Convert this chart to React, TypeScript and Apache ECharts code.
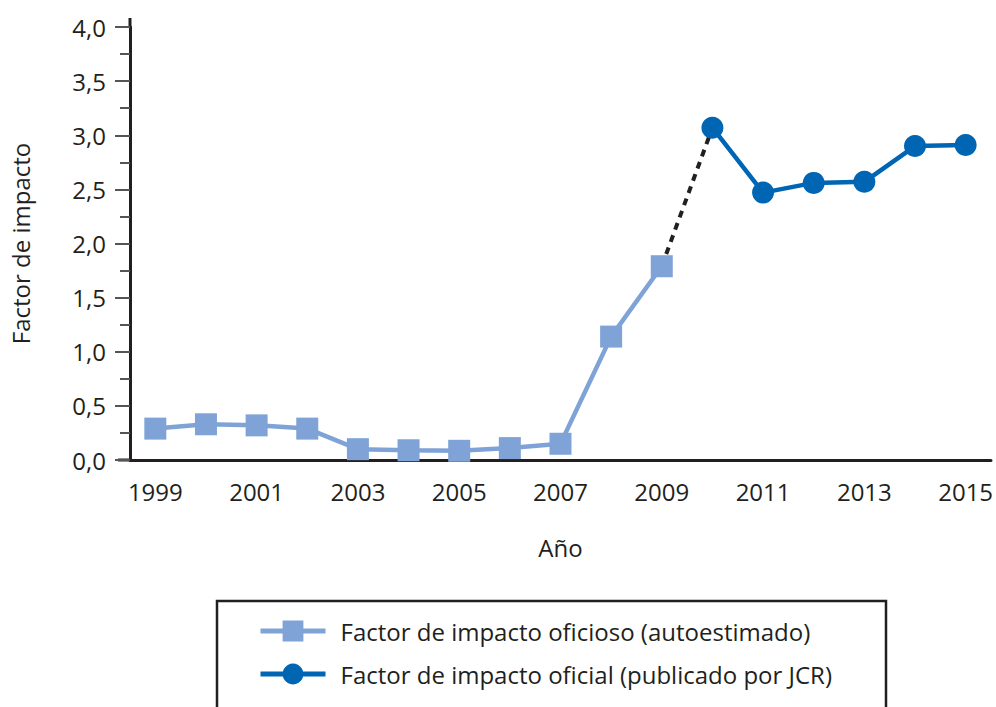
import React, { useEffect, useRef } from "react";
import * as echarts from "echarts";

const years = ["1999","2000","2001","2002","2003","2004","2005","2006","2007","2008","2009","2010","2011","2012","2013","2014","2015"];
const oficioso = [0.29, 0.33, 0.32, 0.29, 0.1, 0.09, 0.085, 0.11, 0.15, 1.14, 1.79, null, null, null, null, null, null];
const oficial = [null, null, null, null, null, null, null, null, null, null, null, 3.07, 2.47, 2.56, 2.57, 2.9, 2.91];
const puente = [null, null, null, null, null, null, null, null, null, null, 1.79, 3.07, null, null, null, null, null];
const seriesNames = ["Factor de impacto oficioso (autoestimado)", "Factor de impacto oficial (publicado por JCR)"];

const FONT = "Open Sans";
const TXT = "#231f20";
const LIGHT = "#7fa3d6";
const DARK = "#0066b3";
const FS = 24;

export default function App() {
  const ref = useRef<HTMLDivElement>(null);
  useEffect(() => {
    const chart = echarts.init(ref.current!, undefined, { renderer: "svg" });
    chart.setOption({
      animation: false,
      textStyle: { fontFamily: FONT, color: TXT },
      grid: { left: 130, right: 2, top: 27, bottom: 247 },
      xAxis: [
        {
          type: "category",
          data: years,
          boundaryGap: true,
          name: "Año",
          nameLocation: "middle",
          nameGap: 75,
          nameTextStyle: { fontSize: FS, color: TXT, fontFamily: FONT },
          axisLine: { lineStyle: { color: TXT, width: 3 } },
          axisTick: { alignWithLabel: true, interval: 1, length: 15, lineStyle: { color: "#555", width: 2 } },
          axisLabel: { interval: 1, fontSize: FS, color: TXT, margin: 19, fontFamily: FONT },
        },
        {
          type: "category",
          data: years,
          boundaryGap: true,
          position: "bottom",
          axisLine: { show: false },
          axisTick: { alignWithLabel: true, interval: 0, length: 10, lineStyle: { color: "#555", width: 2 } },
          axisLabel: { show: false },
        },
      ],
      yAxis: {
        type: "value",
        min: 0,
        max: 4,
        interval: 0.5,
        name: "Factor de impacto",
        nameLocation: "middle",
        nameGap: 98,
        nameTextStyle: { fontSize: FS, color: TXT, fontFamily: FONT },
        axisLine: { show: true, lineStyle: { color: TXT, width: 3 } },
        axisTick: { show: true, length: 15, lineStyle: { color: "#555", width: 2 } },
        minorTick: { show: true, splitNumber: 2, length: 10, lineStyle: { color: "#555", width: 2 } },
        splitLine: { show: false },
        axisLabel: {
          fontSize: FS,
          color: TXT,
          margin: 24,
          fontFamily: FONT,
          formatter: (v: number) => v.toFixed(1).replace(".", ","),
        },
      },
      legend: {
        data: seriesNames,
        orient: "vertical",
        left: 258,
        top: 619,
        padding: 0,
        itemWidth: 65,
        itemHeight: 26,
        itemGap: 19,
        lineStyle: { width: 5 },
        textStyle: { fontSize: FS, color: TXT, fontFamily: FONT, padding: [0, 0, 0, 10] },
      },
      graphic: [
        {
          type: "rect",
          shape: { x: 217, y: 601, width: 669, height: 130 },
          style: { fill: "none", stroke: TXT, lineWidth: 2.5 },
          silent: true,
        },
        {
          type: "line",
          shape: { x1: 118, y1: 460, x2: 130, y2: 460 },
          style: { stroke: TXT, lineWidth: 3 },
          silent: true,
        },
        {
          type: "line",
          shape: { x1: 130, y1: 18, x2: 130, y2: 28 },
          style: { stroke: TXT, lineWidth: 3 },
          silent: true,
        },
      ],
      series: [
        {
          name: "puente",
          type: "line",
          data: puente,
          symbol: "none",
          z: 1,
          lineStyle: { color: TXT, width: 4, type: [7, 6] },
        },
        {
          name: seriesNames[0],
          type: "line",
          data: oficioso,
          symbol: "rect",
          symbolSize: 22,
          z: 3,
          itemStyle: { color: LIGHT },
          lineStyle: { color: LIGHT, width: 4.5 },
        },
        {
          name: seriesNames[1],
          type: "line",
          data: oficial,
          symbol: "circle",
          symbolSize: 22,
          z: 3,
          itemStyle: { color: DARK },
          lineStyle: { color: DARK, width: 4.5 },
        },
      ],
    });
    return () => chart.dispose();
  }, []);
  return <div ref={ref} style={{ width: 996, height: 707, position: "absolute", left: 0, top: 0 }} />;
}
